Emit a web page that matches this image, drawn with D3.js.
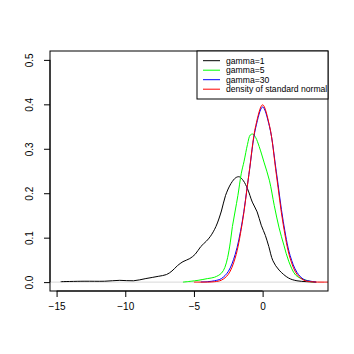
<html>
<head>
    <script src="https://cdn.jsdelivr.net/npm/d3@7"></script>
    <style>
        body {
            margin: 0;
            font-family: "Liberation Sans", Arial, Helvetica, sans-serif;
            background: white;
        }
    </style>
</head>
<body>
    <svg id="chart"></svg>
<script>
    // density curves as [x, density] pairs
    let gamma1 = [
        [-14.7, 0.001], [-13.0, 0.002], [-11.5, 0.002], [-10.4, 0.004], [-9.4, 0.003],
        [-8.5, 0.008], [-7.6, 0.013], [-7.0, 0.017], [-6.6, 0.025], [-6.2, 0.037],
        [-5.8, 0.046], [-5.3, 0.053], [-4.9, 0.063], [-4.5, 0.080], [-4.1, 0.092],
        [-3.8, 0.103], [-3.4, 0.125], [-3.0, 0.160], [-2.7, 0.195], [-2.3, 0.222],
        [-1.95, 0.235], [-1.7, 0.237], [-1.4, 0.228], [-1.1, 0.210], [-0.75, 0.180],
        [-0.4, 0.158], [-0.1, 0.128], [0.2, 0.105], [0.45, 0.080], [0.75, 0.048],
        [1.2, 0.027], [1.9, 0.009], [2.5, 0.003], [3.2, 0.001], [3.9, 0.000]
    ];
    let gamma5 = [
        [-5.8, 0.000], [-5.2, 0.002], [-4.7, 0.004], [-4.0, 0.008], [-3.5, 0.011],
        [-3.0, 0.020], [-2.75, 0.033], [-2.55, 0.055], [-2.35, 0.090], [-2.2, 0.125],
        [-2.0, 0.160], [-1.8, 0.195], [-1.55, 0.245], [-1.35, 0.272], [-1.1, 0.310],
        [-0.9, 0.331], [-0.7, 0.333], [-0.5, 0.325], [-0.25, 0.305], [0.1, 0.270],
        [0.5, 0.228], [0.85, 0.172], [1.2, 0.122], [1.55, 0.083], [1.9, 0.047],
        [2.4, 0.016], [2.9, 0.007], [3.3, 0.003], [3.7, 0.000]
    ];
    let gamma30 = [
        [-4.5, 0.0005], [-4.0, 0.001], [-3.5, 0.003], [-3.0, 0.008], [-2.5, 0.024],
        [-2.0, 0.062], [-1.5, 0.133], [-1.0, 0.242], [-0.5, 0.348], [0.0, 0.394],
        [0.5, 0.350], [1.0, 0.248], [1.5, 0.137], [2.0, 0.060], [2.5, 0.022],
        [3.0, 0.006], [3.5, 0.002], [3.9, 0.000]
    ];
    let stdNormal = [
        [-5.0, 0.0000], [-4.5, 0.0000], [-4.0, 0.0001], [-3.5, 0.0009], [-3.0, 0.0044],
        [-2.5, 0.0175], [-2.0, 0.0540], [-1.5, 0.1295], [-1.0, 0.2420], [-0.5, 0.3521],
        [0.0, 0.3989], [0.5, 0.3521], [1.0, 0.2420], [1.5, 0.1295], [2.0, 0.0540],
        [2.5, 0.0175], [3.0, 0.0044], [3.5, 0.0009], [4.0, 0.0001], [4.5, 0.0000],
        [5.0, 0.0000]
    ];

    let seriesNames = ["gamma=1", "gamma=5", "gamma=30", "density of standard normal"];
    let seriesColors = ["#000000", "#00ff00", "#0000ff", "#ff0000"];
    let xTicks = [-15, -10, -5, 0];
    let yTicks = [0, 0.1, 0.2, 0.3, 0.4, 0.5];

    let width = 354, height = 354;
    let plot = {left: 50, right: 328, top: 51, bottom: 291};

    let svg = d3.select("#chart").attr("width", width).attr("height", height);

    let x = d3.scaleLinear().domain([-15.48, 4.76]).range([plot.left, plot.right]);
    let y = d3.scaleLinear().domain([-0.02, 0.52]).range([plot.bottom, plot.top]);

    svg.append("clipPath").attr("id", "clip")
        .append("rect")
        .attr("x", plot.left).attr("y", plot.top)
        .attr("width", plot.right - plot.left).attr("height", plot.bottom - plot.top);

    let g = svg.append("g").attr("clip-path", "url(#clip)");

    // gray zero line like plot.density draws
    g.append("line")
        .attr("x1", plot.left).attr("x2", plot.right)
        .attr("y1", y(0)).attr("y2", y(0))
        .attr("stroke", "#bebebe").attr("stroke-width", 0.6);

    let line = d3.line()
        .x(d => x(d[0]))
        .y(d => y(d[1]))
        .curve(d3.curveCatmullRom);

    [gamma1, gamma5, gamma30, stdNormal].forEach((s, i) => {
        g.append("path")
            .attr("d", line(s))
            .attr("fill", "none")
            .attr("stroke", seriesColors[i])
            .attr("stroke-width", 1);
    });

    // frame
    svg.append("rect")
        .attr("x", plot.left).attr("y", plot.top)
        .attr("width", plot.right - plot.left).attr("height", plot.bottom - plot.top)
        .attr("fill", "none").attr("stroke", "black").attr("stroke-width", 1);

    let fmt = v => (v < 0 ? "\u2212" + Math.abs(v) : "" + v);

    let xAxis = d3.axisBottom(x).tickValues(xTicks).tickSize(6).tickPadding(6).tickFormat(fmt);
    let xg = svg.append("g").attr("transform", "translate(0," + plot.bottom + ")").call(xAxis);
    xg.select(".domain").attr("d", "M" + x(xTicks[0]) + ",0H" + x(xTicks[xTicks.length - 1]));

    let yAxis = d3.axisLeft(y).tickValues(yTicks).tickSize(6).tickFormat(d3.format(".1f"));
    let yg = svg.append("g").attr("transform", "translate(" + plot.left + ",0)").call(yAxis);
    yg.select(".domain").attr("d", "M0," + y(yTicks[0]) + "V" + y(yTicks[yTicks.length - 1]));
    yg.selectAll(".tick text")
        .attr("x", 0).attr("dy", 0)
        .attr("transform", "translate(-17,0) rotate(-90)")
        .style("text-anchor", "middle");

    svg.selectAll(".tick text")
        .style("font-family", "'Liberation Sans', Arial, sans-serif")
        .style("font-size", "10px")
        .attr("fill", "black");
    svg.selectAll(".tick line, .domain").attr("stroke", "black");

    // legend top right
    let legend = svg.append("g");
    legend.append("rect")
        .attr("x", 197).attr("y", plot.top)
        .attr("width", plot.right - 197).attr("height", 99 - plot.top)
        .attr("fill", "white").attr("stroke", "black").attr("stroke-width", 1);

    let rows = legend.selectAll(".row")
        .data(seriesNames)
        .enter().append("g")
        .attr("transform", (d, i) => "translate(0," + (60.7 + i * 9.5) + ")");

    rows.append("line")
        .attr("x1", 203).attr("x2", 220)
        .attr("stroke", (d, i) => seriesColors[i]).attr("stroke-width", 1);

    rows.append("text")
        .attr("x", 226).attr("dy", "0.35em")
        .style("font-size", "8.6px")
        .text(d => d);
</script>
</body>
</html>
